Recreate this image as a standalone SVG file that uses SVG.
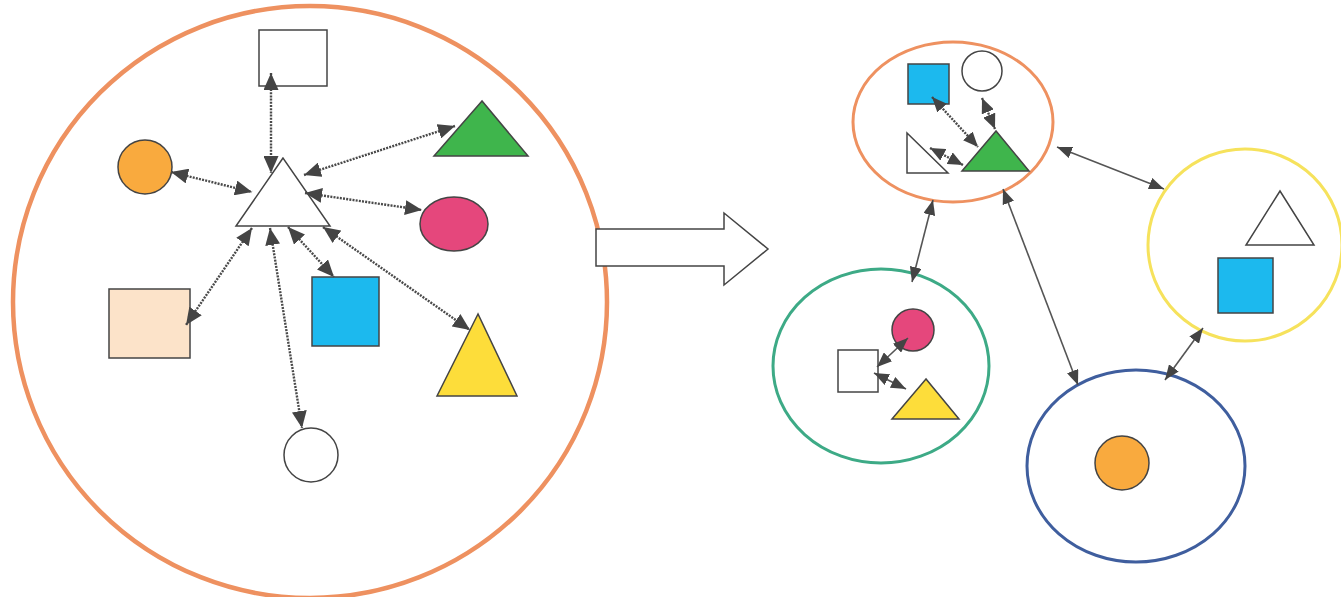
<svg xmlns="http://www.w3.org/2000/svg" width="1341" height="597" viewBox="0 0 1341 597">
<style>
.shape{stroke:#444;stroke-width:1.5}
.dot{fill:none;stroke:#4a4a4a;stroke-width:2.4;stroke-dasharray:2 1.2;marker-start:url(#ah);marker-end:url(#ah)}
.dot2{fill:none;stroke:#4a4a4a;stroke-width:2.4;stroke-dasharray:2 1.2;marker-start:url(#ahm);marker-end:url(#ahm)}
.sol{fill:none;stroke:#555;stroke-width:1.6;marker-start:url(#ahs);marker-end:url(#ahs)}
</style>
<defs>
<marker id="ah" viewBox="0 0 17 15" refX="17" refY="7.5" markerWidth="17" markerHeight="15" markerUnits="userSpaceOnUse" orient="auto-start-reverse"><path d="M0,0 L17,7.5 L0,15 z" fill="#444"/></marker>
<marker id="ahm" viewBox="0 0 15 13" refX="15" refY="6.5" markerWidth="15" markerHeight="13" markerUnits="userSpaceOnUse" orient="auto-start-reverse"><path d="M0,0 L15,6.5 L0,13 z" fill="#444"/></marker>
<marker id="ahs" viewBox="0 0 15 12" refX="15" refY="6" markerWidth="15" markerHeight="12" markerUnits="userSpaceOnUse" orient="auto-start-reverse"><path d="M0,0 L15,6 L0,12 z" fill="#444"/></marker>
</defs>
<rect width="1341" height="597" fill="#fff"/>

<g id="left-cluster">
<ellipse cx="310" cy="302" rx="297" ry="296" fill="none" stroke="#EE9160" stroke-width="4.5"/>
</g>
<g id="rect-top"><rect class="shape" x="259" y="30" width="68" height="56" fill="#fff"/></g>
<g id="orange-circle"><circle class="shape" cx="145" cy="167" r="27" fill="#F9AA3E"/></g>
<g id="green-tri"><polygon class="shape" points="482,101 434,156 528,156" fill="#3FB54C"/></g>
<g id="center-tri"><polygon class="shape" points="283,158 236,226 330,226" fill="#fff"/></g>
<g id="pink-ellipse"><ellipse class="shape" cx="454" cy="224" rx="34" ry="27" fill="#E5477C"/></g>
<g id="peach-rect"><rect class="shape" x="109" y="289" width="81" height="69" fill="#FCE3C9"/></g>
<g id="blue-square"><rect class="shape" x="312" y="277" width="67" height="69" fill="#1CB9EE"/></g>
<g id="yellow-tri"><polygon class="shape" points="478,314 437,396 517,396" fill="#FDDD3A"/></g>
<g id="white-circle"><circle class="shape" cx="311" cy="455" r="27" fill="#fff"/></g>

<g id="big-arrow"><polygon points="596,229 724,229 724,213 768,249 724,285 724,266 596,266" fill="#fff" stroke="#444" stroke-width="1.5"/></g>

<g id="cluster-orange">
<ellipse cx="953" cy="122" rx="100" ry="80" fill="none" stroke="#EE9160" stroke-width="3"/>
<rect class="shape" x="908" y="64" width="41" height="40" fill="#1CB9EE"/>
<circle class="shape" cx="982" cy="71" r="20" fill="#fff"/>
<polygon class="shape" points="907,133 907,173 948,173" fill="#fff"/>
<polygon class="shape" points="996,131 962,171 1029,171" fill="#3FB54C"/>
</g>
<g id="cluster-green">
<ellipse cx="881" cy="366" rx="108" ry="97" fill="none" stroke="#3DAA86" stroke-width="3"/>
<circle class="shape" cx="913" cy="330" r="21" fill="#E5477C"/>
<rect class="shape" x="838" y="350" width="40" height="42" fill="#fff"/>
<polygon class="shape" points="926,379 892,419 959,419" fill="#FDDD3A"/>
</g>
<g id="cluster-yellow">
<ellipse cx="1245" cy="245" rx="97" ry="96" fill="none" stroke="#F6E25C" stroke-width="3"/>
<polygon class="shape" points="1280,191 1246,245 1314,245" fill="#fff"/>
<rect class="shape" x="1218" y="258" width="55" height="55" fill="#1CB9EE"/>
</g>
<g id="cluster-blue">
<ellipse cx="1136" cy="466" rx="109" ry="96" fill="none" stroke="#3F5E9E" stroke-width="3"/>
<circle class="shape" cx="1122" cy="463" r="27" fill="#F9AA3E"/>
</g>

<g id="connectors">
<line class="dot" x1="271" y1="73" x2="271" y2="173"/>
<line class="dot" x1="171" y1="172" x2="252" y2="192"/>
<line class="dot" x1="304" y1="175" x2="455" y2="126"/>
<line class="dot" x1="305" y1="193" x2="422" y2="210"/>
<line class="dot" x1="252" y1="228" x2="186" y2="325"/>
<line class="dot" x1="270" y1="228" x2="302" y2="428"/>
<line class="dot" x1="288" y1="227" x2="334" y2="277"/>
<line class="dot" x1="323" y1="227" x2="470" y2="330"/>
<line class="dot2" x1="932" y1="97" x2="978" y2="147"/>
<line class="dot2" x1="982" y1="98" x2="995" y2="129"/>
<line class="dot2" x1="930" y1="148" x2="963" y2="165"/>
<line class="sol" x1="908" y1="338" x2="877" y2="367"/>
<line class="sol" x1="874" y1="373" x2="906" y2="389"/>
<line class="sol" x1="1057" y1="147" x2="1164" y2="189"/>
<line class="sol" x1="1003" y1="189" x2="1078" y2="385"/>
<line class="sol" x1="933" y1="200" x2="912" y2="282"/>
<line class="sol" x1="1203" y1="328" x2="1165" y2="380"/>
</g>
</svg>
